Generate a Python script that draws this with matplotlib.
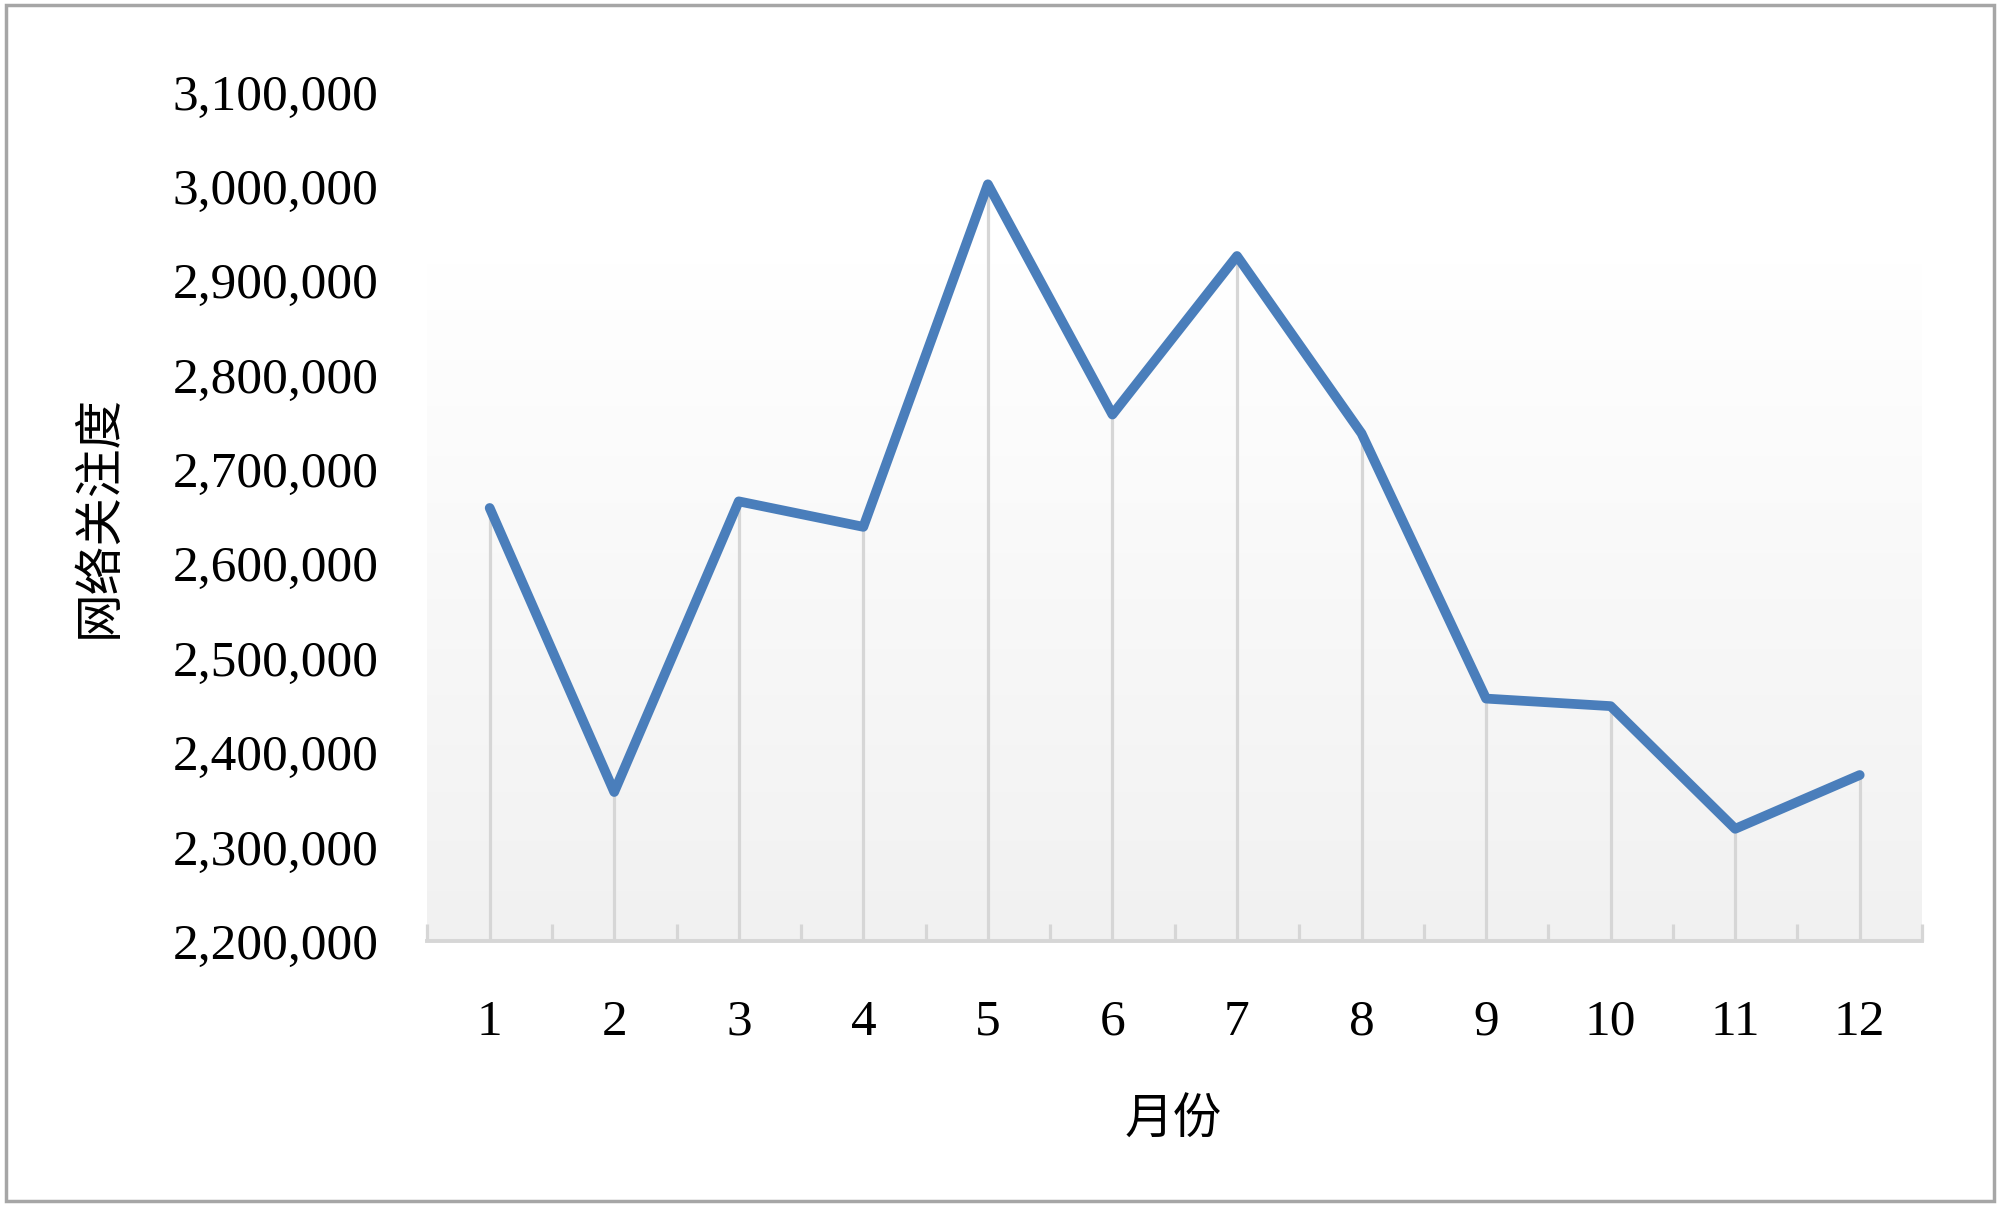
import numpy as np
import matplotlib
matplotlib.use("Agg")
from matplotlib import pyplot
from matplotlib.patches import Rectangle
from matplotlib.ticker import FuncFormatter

months = [1, 2, 3, 4, 5, 6, 7, 8, 9, 10, 11, 12]
attention = [2659000, 2358000, 2666000, 2639000, 3002000, 2758000,
             2926000, 2738000, 2457000, 2449000, 2319000, 2376000]
y_ticks = [2200000, 2300000, 2400000, 2500000, 2600000, 2700000,
           2800000, 2900000, 3000000, 3100000]
x_title = "月份"
y_title = "网络关注度"

serif = "Liberation Serif"
cjk = ["Noto Sans CJK SC", "DejaVu Sans"]

fig = pyplot.figure(figsize=(20, 12.05), dpi=100)
ax = fig.add_axes([0.2137, 0.219, 0.961 - 0.2137, 0.9238 - 0.219])

ax.set_xlim(0.5, 12.5)
ax.set_ylim(y_ticks[0], y_ticks[-1])

# plot-area gradient, white at top to light grey at bottom
grad = np.clip(np.linspace(1.25, 0.0, 256), 0, 1).reshape(-1, 1)
top = np.array([1.0, 1.0, 1.0])
bot = np.array([0.945, 0.945, 0.945])
img = top * grad[..., None] + bot * (1 - grad[..., None])
ax.imshow(img, extent=(0.5, 12.5, y_ticks[0], y_ticks[-1]), aspect="auto",
          origin="upper", zorder=0)

# drop lines
ax.vlines(months, y_ticks[0], attention, color="#d6d6d6", lw=2.3, zorder=1)
ax.plot(months, attention, color="#4a7ebb", lw=7, solid_capstyle="round",
        solid_joinstyle="round", zorder=3)

for s in ["left", "right", "top"]:
  ax.spines[s].set_visible(False)
ax.spines["bottom"].set_color("#d6d6d6")
ax.spines["bottom"].set_linewidth(2.8)
ax.spines["bottom"].set_zorder(2)

ax.set_yticks(y_ticks)
ax.yaxis.set_major_formatter(FuncFormatter(lambda v, p: "{:,.0f}".format(v)))
ax.tick_params(axis="y", length=0, pad=35, labelsize=37)
for lab in ax.get_yticklabels():
  lab.set_fontfamily(serif)

ax.set_xticks(months)
ax.set_xticklabels([str(m) for m in months])
ax.set_xticks(np.arange(0.5, 13, 1.0), minor=True)
ax.tick_params(axis="x", which="major", length=0, pad=42, labelsize=37)
ax.tick_params(axis="x", which="minor", direction="in", length=12, width=2.3,
               color="#d6d6d6")
for lab in ax.get_xticklabels():
  lab.set_fontfamily(serif)

fig.text(1173 / 2000, 1 - 1120 / 1205, x_title, family=cjk, fontsize=35,
         ha="center", va="center")
fig.text(99 / 2000, 1 - 516 / 1205, y_title, family=cjk, fontsize=35,
         ha="center", va="center", rotation=90)

# outer chart border
fig.patches.append(Rectangle((6 / 2000, 4 / 1205), 1 - 12 / 2000, 1 - 9 / 1205,
                             transform=fig.transFigure, fill=False,
                             edgecolor="#a6a6a6", lw=2.5))

pyplot.savefig("out.png", dpi=100)
pyplot.close()
